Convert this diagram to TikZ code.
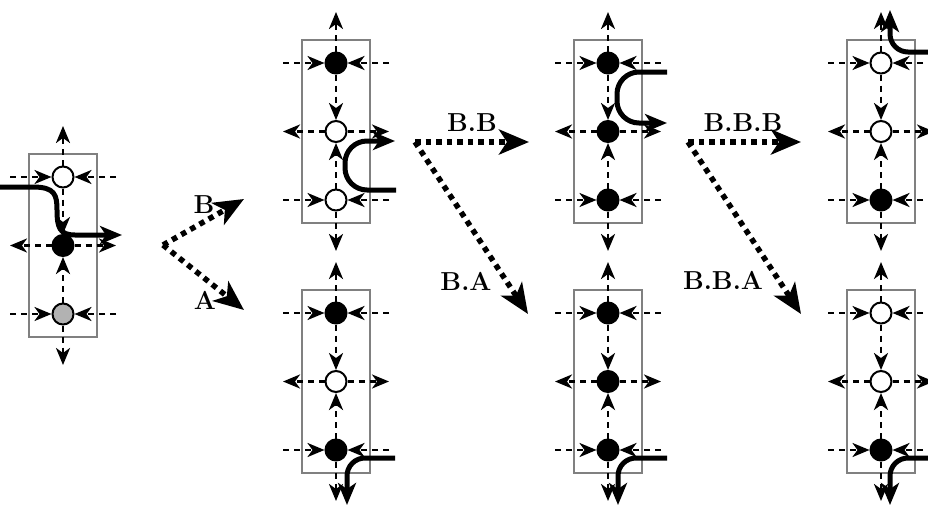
\documentclass[tikz,border=0pt]{standalone}
\usetikzlibrary{arrows.meta}
\begin{document}
\begin{tikzpicture}[x=1pt,y=-1pt,
  box/.style={draw=black!50, line width=2pt},
  site/.style={circle, draw=black, line width=2pt, minimum size=21pt, inner sep=0pt},
  occ/.style={site, fill=black},
  emp/.style={site, fill=white},
  half/.style={site, fill=black!30},
  spoke/.style={line width=2.6pt, dash pattern=on 6pt off 5pt,
    -{Stealth[length=17pt,width=14pt,inset=5pt]}},
  walk/.style={line width=5pt, rounded corners=18pt,
    -{Stealth[length=22pt,width=18pt,inset=6pt]}},
  move/.style={line width=5.5pt, dash pattern=on 5.5pt off 5pt,
    -{Stealth[length=30pt,width=25pt,inset=8pt]}},
  lbl/.style={font=\fontsize{26}{30}\selectfont\bfseries, inner sep=0pt}
]
\useasboundingbox (0,0) rectangle (928,506);

% one column of three sites: name, x, y of top site, three fill styles
\newcommand\sitecolumn[6]{%
  \draw[box] (#2-34,#3-23) rectangle (#2+34,#3+160);
  \node[#4] (#1a) at (#2,#3) {};
  \node[#5] (#1b) at (#2,#3+68.5) {};
  \node[#6] (#1c) at (#2,#3+137) {};
  \coordinate (#1aL) at (#2-53,#3);
  \coordinate (#1aR) at (#2+53,#3);
  \coordinate (#1bL) at (#2-53,#3+68.5);
  \coordinate (#1bR) at (#2+53,#3+68.5);
  \coordinate (#1cL) at (#2-53,#3+137);
  \coordinate (#1cR) at (#2+53,#3+137);
  \coordinate (#1T) at (#2,#3-51);
  \coordinate (#1B) at (#2,#3+188);
  \draw[spoke] (#1aL) -- (#1a);
  \draw[spoke] (#1aR) -- (#1a);
  \draw[spoke] (#1b) -- (#1bL);
  \draw[spoke] (#1b) -- (#1bR);
  \draw[spoke] (#1cL) -- (#1c);
  \draw[spoke] (#1cR) -- (#1c);
  \draw[spoke] (#1a) -- (#1T);
  \draw[spoke] (#1a) -- (#1b);
  \draw[spoke] (#1c) -- (#1b);
  \draw[spoke] (#1c) -- (#1B);
}

\sitecolumn{p}{63}{177}{emp}{occ}{half}
\sitecolumn{q}{336}{63}{occ}{emp}{emp}
\sitecolumn{r}{336}{313}{occ}{emp}{occ}
\sitecolumn{s}{608}{63}{occ}{occ}{occ}
\sitecolumn{t}{608}{313}{occ}{occ}{occ}
\sitecolumn{u}{881}{63}{emp}{emp}{occ}
\sitecolumn{v}{881}{313}{emp}{emp}{occ}

% particle trajectories
\coordinate (w0s) at (-5,187);
\coordinate (w0e) at (122,235);
\draw[walk, rounded corners=0pt] (w0s) -- (33,187)
  .. controls (55,187) and (57,195) .. (57,210)
  .. controls (57,228) and (60,235) .. (75,235) -- (w0e);

\coordinate (w1s) at (396,190);
\coordinate (w1e) at (395,141);
\draw[walk, rounded corners=22pt] (w1s) -| (345,141) -- (w1e);

\coordinate (w2s) at (667,72);
\coordinate (w2e) at (667,123);
\draw[walk, rounded corners=22pt] (w2s) -| (617,123) -- (w2e);

\coordinate (w3s) at (940,52);
\coordinate (w3e) at (890,10);
\draw[walk] (w3s) -| (w3e);

\coordinate (w4s) at (395,458);
\coordinate (w4e) at (347,505);
\draw[walk] (w4s) -| (w4e);

\coordinate (w5s) at (667,458);
\coordinate (w5e) at (618,505);
\draw[walk] (w5s) -| (w5e);

\coordinate (w6s) at (940,458);
\coordinate (w6e) at (890,505);
\draw[walk] (w6s) -| (w6e);

% branching moves
\coordinate (m0) at (163,245);
\coordinate (m0b) at (244,199);
\coordinate (m0a) at (244,310);
\draw[move] (m0) -- (m0b);
\draw[move] (m0) -- (m0a);
\node[lbl] (lB) at (204,205) {B};
\node[lbl] (lA) at (205,300) {A};

\coordinate (m1) at (415,142);
\coordinate (m1b) at (529,142);
\coordinate (m1a) at (528,314);
\draw[move] (m1) -- (m1b);
\draw[move] (m1) -- (m1a);
\node[lbl] (lBB) at (472,123) {B.B};
\node[lbl] (lBA) at (466,281) {B.A};

\coordinate (m2) at (688,142);
\coordinate (m2b) at (801,142);
\coordinate (m2a) at (801,314);
\draw[move] (m2) -- (m2b);
\draw[move] (m2) -- (m2a);
\node[lbl] (lBBB) at (743,123) {B.B.B};
\node[lbl] (lBBA) at (723,280) {B.B.A};
\end{tikzpicture}
\end{document}
